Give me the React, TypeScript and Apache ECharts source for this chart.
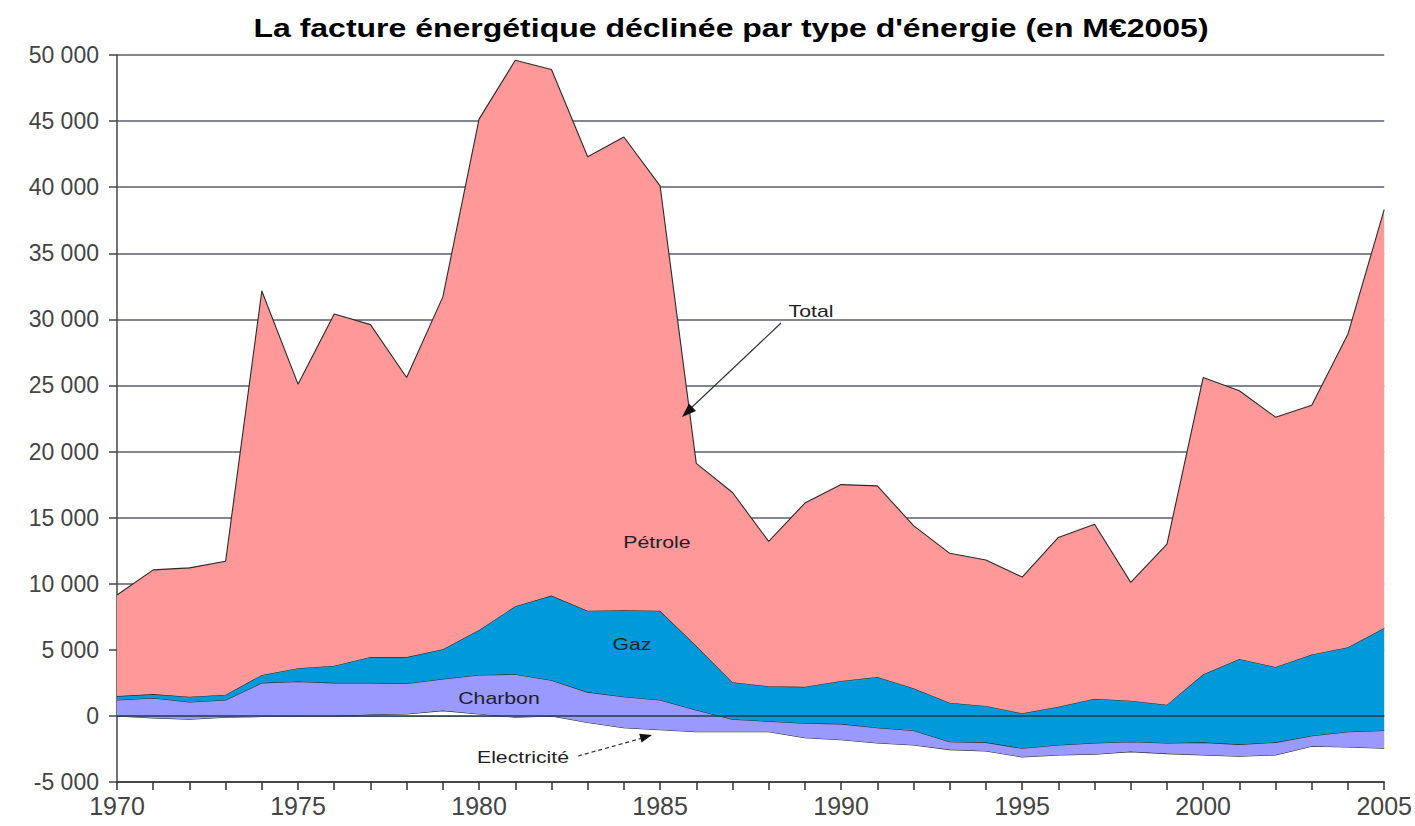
import React, { useEffect, useRef } from "react";
import * as echarts from "echarts";

const years = [
  "1970","1971","1972","1973","1974","1975","1976","1977","1978","1979",
  "1980","1981","1982","1983","1984","1985","1986","1987","1988","1989",
  "1990","1991","1992","1993","1994","1995","1996","1997","1998","1999",
  "2000","2001","2002","2003","2004","2005",
];

const electricite = [
  0, -150, -250, -100, -50, 0, 0, 100, 150, 400,
  150, -100, 0, -500, -900, -1050, -1200, -1200, -1200, -1650,
  -1800, -2050, -2200, -2550, -2650, -3100, -2950, -2900, -2700, -2850,
  -2950, -3050, -2950, -2300, -2350, -2450,
];

const charbon = [
  1200, 1500, 1300, 1300, 2550, 2600, 2500, 2400, 2300, 2400,
  2950, 3250, 2700, 2300, 2350, 2250, 1650, 950, 800, 1100,
  1200, 1150, 1100, 600, 650, 650, 750, 850, 750, 800,
  950, 900, 950, 800, 1150, 1350,
];

const gaz = [
  300, 300, 400, 400, 600, 1000, 1300, 1950, 2000, 2250,
  3400, 5150, 6400, 6150, 6550, 6750, 4850, 2800, 2650, 2750,
  3250, 3850, 3200, 2950, 2750, 2650, 2900, 3350, 3100, 2900,
  5150, 6450, 5700, 6150, 6400, 7750,
];

const petrole = [
  7650, 9400, 9750, 10100, 29050, 21500, 26600, 25150, 21150, 26650,
  38650, 41300, 39800, 34350, 35800, 32150, 13800, 14350, 10950, 13900,
  14850, 14450, 12300, 11300, 11050, 10300, 12800, 13200, 8950, 12150,
  22450, 20300, 18900, 18850, 23700, 31650,
];

const fmt = (v: number) => {
  const s = Math.abs(v).toString();
  const withSp = s.replace(/\B(?=(\d{3})+(?!\d))/g, " ");
  return (v < 0 ? "-" : "") + withSp;
};

const FONT = '"Liberation Sans", Arial, sans-serif';

export default function App() {
  const ref = useRef<HTMLDivElement>(null);
  useEffect(() => {
    if (!ref.current) return;
    const chart = echarts.init(ref.current, null, { renderer: "svg" });
    const lineCol = "#2a2a2a";
    const mk = (name: string, data: number[], color: string, z: number) => ({
      name,
      type: "line",
      stack: "total",
      stackStrategy: "all",
      data,
      symbol: "none",
      smooth: false,
      z,
      lineStyle: { color: lineCol, width: 1.1 },
      areaStyle: { color, opacity: 1 },
      emphasis: { disabled: true },
    });
    const txt = (text: string, x: number, y: number, size = 17, bold = false, fill = "#1e1e28", sx = 1.25) => ({
      type: "text",
      x,
      y,
      scaleX: sx,
      style: {
        text,
        font: `${bold ? "bold " : ""}${size}px ${FONT}`,
        fill,
        textAlign: "center",
        textVerticalAlign: "middle",
      },
      z: 100,
    });
    chart.setOption({
      animation: false,
      grid: { left: 117, right: 30, top: 55, bottom: 44, containLabel: false },
      xAxis: {
        type: "category",
        data: years,
        boundaryGap: false,
        axisLine: { onZero: false, lineStyle: { color: "#333", width: 1.5 } },
        axisTick: { show: true, interval: 0, length: 8, lineStyle: { color: "#333", width: 1.5 } },
        axisLabel: {
          interval: 4,
          fontSize: 25,
          color: "#444",
          margin: 11,
          fontFamily: FONT,
        },
        splitLine: { show: false },
      },
      yAxis: {
        type: "value",
        min: -5000,
        max: 50000,
        interval: 5000,
        axisLine: { show: true, lineStyle: { color: "#444", width: 1.5 } },
        axisTick: { show: true, length: 8, lineStyle: { color: "#444", width: 1.5 } },
        axisLabel: {
          formatter: (v: number) => fmt(v),
          fontSize: 23,
          color: "#444",
          margin: 18,
          fontFamily: FONT,
        },
        splitLine: { show: true, lineStyle: { color: "#5a5d72", width: 1.5 } },
      },
      series: [
        { ...mk("Electricité", electricite, "#ffffff", 2) },
        { ...mk("Charbon", charbon, "#9999ff", 3) },
        { ...mk("Gaz", gaz, "#0099d9", 4) },
        {
          ...mk("Pétrole", petrole, "#ff9999", 5),
          markLine: {
            silent: true,
            symbol: "none",
            label: { show: false },
            lineStyle: { color: "#1d3b4a", width: 1.5, type: "solid" },
            data: [{ yAxis: 0 }],
          },
        },
      ],
      graphic: [
        txt("La facture énergétique déclinée par type d'énergie (en M€2005)", 731, 28, 25, true, "#000", 1.28),
        txt("Total", 811, 311),
        txt("Pétrole", 657, 542),
        txt("Gaz", 632, 644),
        txt("Charbon", 499, 698),
        txt("Electricité", 523, 757),
        {
          type: "line",
          shape: { x1: 781, y1: 323, x2: 690, y2: 409 },
          style: { stroke: "#333", lineWidth: 1.2 },
          z: 100,
        },
        {
          type: "polygon",
          shape: { points: [[682, 417], [696, 411], [689, 403.5]] },
          style: { fill: "#111" },
          z: 100,
        },
        {
          type: "line",
          shape: { x1: 578, y1: 756, x2: 641, y2: 738.5 },
          style: { stroke: "#333", lineWidth: 1.2, lineDash: [4, 3] },
          z: 100,
        },
        {
          type: "polygon",
          shape: { points: [[652, 735], [641.6, 742.4], [639.2, 733.8]] },
          style: { fill: "#111" },
          z: 100,
        },
      ],
    });
    return () => chart.dispose();
  }, []);
  return (
    <div
      ref={ref}
      style={{ position: "fixed", left: 0, top: 0, width: 1415, height: 826, background: "#fff" }}
    />
  );
}
